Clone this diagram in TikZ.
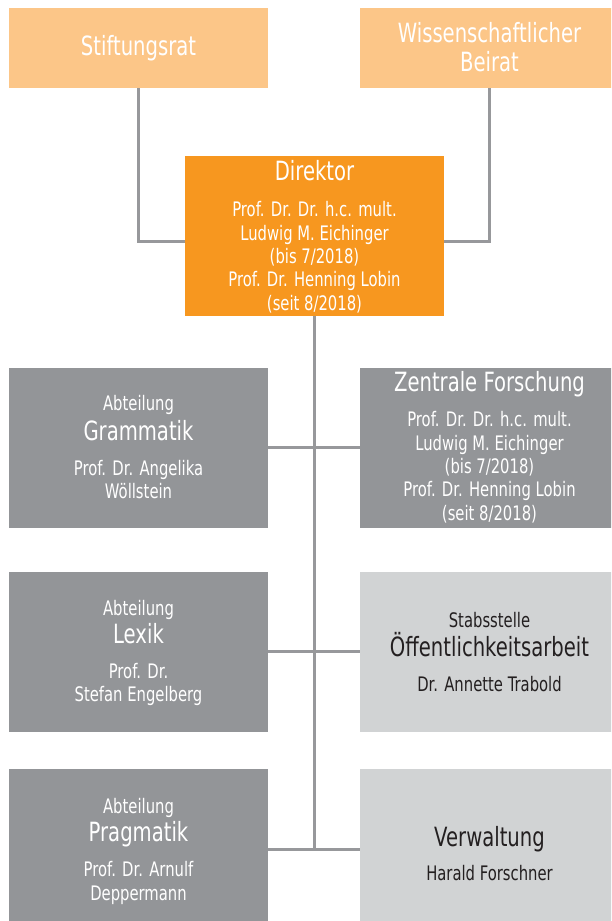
\documentclass[tikz,border=0pt]{standalone}
\usepackage{fontspec}
\setmainfont{DejaVu Sans}[FakeStretch=0.74]
\definecolor{lorange}{HTML}{FCC688}
\definecolor{dorange}{HTML}{F7971F}
\definecolor{dgrey}{HTML}{939598}
\definecolor{lgrey}{HTML}{D1D3D4}
\definecolor{ink}{HTML}{231F20}
\definecolor{lineg}{HTML}{97989B}
\newcommand{\txtline}[5]{\node[#4] (#1) at (#2,#3) {#5};}
\begin{document}
\begin{tikzpicture}[x=1pt,y=-1pt,
  box/.style={rectangle,inner sep=0pt,outer sep=0pt,minimum width=259pt,draw=none},
  tallbox/.style={box,minimum height=160pt},
  shortbox/.style={box,minimum height=80pt},
  conn/.style={draw=lineg,line width=3pt},
  ttl/.style={anchor=base,inner sep=0pt,font=\fontsize{26.5}{29}\selectfont},
  sub/.style={anchor=base,inner sep=0pt,font=\fontsize{20}{23}\selectfont},
  onw/.style={text=white},
  ond/.style={text=ink}]
\useasboundingbox (0,0) rectangle (611,921);
\clip (0,0) rectangle (611,921);
% boxes
\node[shortbox,fill=lorange] (stift) at (138.5,48) {};
\node[shortbox,fill=lorange] (wiss) at (489.5,48) {};
\node[tallbox,fill=dorange] (dir) at (314.5,236) {};
\node[tallbox,fill=dgrey] (gram) at (138.5,447.5) {};
\node[tallbox,fill=dgrey] (zent) at (489.5,447.5) {};
\node[tallbox,fill=dgrey] (lex) at (138.5,651.5) {};
\node[tallbox,fill=lgrey] (oeff) at (489.5,651.5) {};
\node[tallbox,fill=dgrey] (prag) at (138.5,849) {};
\node[tallbox,fill=lgrey] (verw) at (489.5,849) {};
% connectors
\coordinate (hy) at (0,241);
\draw[conn] (stift.south) |- (dir.west |- hy);
\draw[conn] (wiss.south) |- (dir.east |- hy);
\draw[conn] (dir.south) -- (dir.south |- prag.east);
\draw[conn] (gram.east) -- (zent.west);
\draw[conn] (lex.east) -- (oeff.west);
\draw[conn] (prag.east) -- (verw.west);
% texts
\txtline{t1}{138.5}{55}{ttl,onw}{Stiftungsrat}
\txtline{t2}{489.5}{42.7}{ttl,onw}{Wissenschaftlicher}
\txtline{t3}{489.5}{71.7}{ttl,onw}{Beirat}
\txtline{d1}{314.5}{180.7}{ttl,onw}{Direktor}
\txtline{d2}{314.5}{216.7}{sub,onw}{Prof. Dr. Dr. h.c. mult.}
\txtline{d3}{314.5}{240}{sub,onw}{Ludwig M. Eichinger}
\txtline{d4}{314.5}{263.3}{sub,onw}{(bis 7/2018)}
\txtline{d5}{314.5}{286.7}{sub,onw}{Prof. Dr. Henning Lobin}
\txtline{d6}{314.5}{310}{sub,onw}{(seit 8/2018)}
\txtline{g1}{138.5}{410.7}{sub,onw}{Abteilung}
\txtline{g2}{138.5}{440}{ttl,onw}{Grammatik}
\txtline{g3}{138.5}{475}{sub,onw}{Prof. Dr. Angelika}
\txtline{g4}{138.5}{498.3}{sub,onw}{Wöllstein}
\txtline{z1}{489.5}{391.7}{ttl,onw}{Zentrale Forschung}
\txtline{z2}{489.5}{426.7}{sub,onw}{Prof. Dr. Dr. h.c. mult.}
\txtline{z3}{489.5}{450}{sub,onw}{Ludwig M. Eichinger}
\txtline{z4}{489.5}{473.3}{sub,onw}{(bis 7/2018)}
\txtline{z5}{489.5}{496.7}{sub,onw}{Prof. Dr. Henning Lobin}
\txtline{z6}{489.5}{520}{sub,onw}{(seit 8/2018)}
\txtline{l1}{138.5}{615}{sub,onw}{Abteilung}
\txtline{l2}{138.5}{643.3}{ttl,onw}{Lexik}
\txtline{l3}{138.5}{678.3}{sub,onw}{Prof. Dr.}
\txtline{l4}{138.5}{701.7}{sub,onw}{Stefan Engelberg}
\txtline{o1}{489.5}{627.3}{sub,ond}{Stabsstelle}
\txtline{o2}{489.5}{656.7}{ttl,ond}{Öffentlichkeitsarbeit}
\txtline{o3}{489.5}{691.7}{sub,ond}{Dr. Annette Trabold}
\txtline{p1}{138.5}{813.3}{sub,onw}{Abteilung}
\txtline{p2}{138.5}{841.7}{ttl,onw}{Pragmatik}
\txtline{p3}{138.5}{876.7}{sub,onw}{Prof. Dr. Arnulf}
\txtline{p4}{138.5}{900}{sub,onw}{Deppermann}
\txtline{v1}{489.5}{846.7}{ttl,ond}{Verwaltung}
\txtline{v2}{489.5}{880}{sub,ond}{Harald Forschner}
\end{tikzpicture}
\end{document}
